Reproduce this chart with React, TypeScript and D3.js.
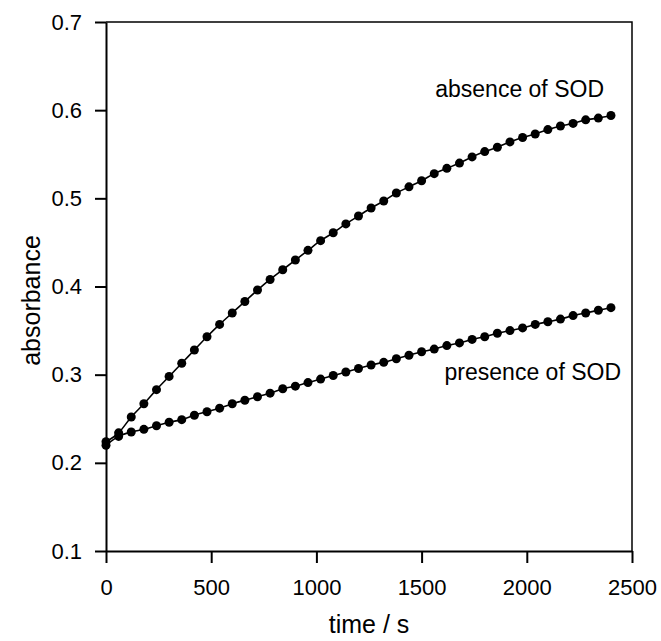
import React, { useEffect, useRef } from "react";
import * as d3 from "d3";

// time / s (readings every 60 s)
const times = [
  0, 60, 120, 180, 240, 300, 360, 420, 480, 540, 600, 660, 720, 780, 840, 900,
  960, 1020, 1080, 1140, 1200, 1260, 1320, 1380, 1440, 1500, 1560, 1620, 1680,
  1740, 1800, 1860, 1920, 1980, 2040, 2100, 2160, 2220, 2280, 2340, 2400,
];

const absenceSOD = [
  0.224, 0.234, 0.252, 0.267, 0.283, 0.298, 0.313, 0.328, 0.343, 0.357, 0.37,
  0.383, 0.396, 0.408, 0.419, 0.43, 0.441, 0.452, 0.461, 0.471, 0.48, 0.489,
  0.497, 0.506, 0.513, 0.52, 0.528, 0.534, 0.54, 0.547, 0.553, 0.558, 0.564,
  0.569, 0.573, 0.578, 0.582, 0.585, 0.589, 0.591, 0.594,
];

const presenceSOD = [
  0.22, 0.23, 0.235, 0.238, 0.242, 0.246, 0.249, 0.254, 0.258, 0.262, 0.267,
  0.271, 0.275, 0.279, 0.284, 0.287, 0.291, 0.295, 0.299, 0.303, 0.307, 0.311,
  0.314, 0.318, 0.322, 0.326, 0.329, 0.333, 0.336, 0.34, 0.343, 0.347, 0.35,
  0.353, 0.357, 0.36, 0.363, 0.367, 0.37, 0.373, 0.376,
];

const xTicks = [0, 500, 1000, 1500, 2000, 2500];
const yTicks = [0.1, 0.2, 0.3, 0.4, 0.5, 0.6, 0.7];

const width = 661;
const height = 641;
const margin = { top: 22, left: 106, right: 29, bottom: 90 };
const font = "'Liberation Sans', Arial, Helvetica, sans-serif";

const App = () => {
  const svgRef = useRef(null);

  useEffect(() => {
    const x = d3.scaleLinear([0, 2500], [margin.left, width - margin.right]);
    const y = d3.scaleLinear([0.1, 0.7], [height - margin.bottom, margin.top]);

    const svg = d3.select(svgRef.current);
    svg.selectAll("*").remove();

    // frame (top + right)
    svg
      .append("path")
      .attr("d", `M${x(0)},${y(0.7)}H${x(2500)}V${y(0.1)}`)
      .attr("fill", "none")
      .attr("stroke", "#000")
      .attr("stroke-width", 1.5);

    const xAxis = d3
      .axisBottom(x)
      .tickValues(xTicks)
      .tickFormat((d) => `${d}`)
      .tickSize(12)
      .tickSizeOuter(0)
      .tickPadding(16);
    const yAxis = d3
      .axisLeft(y)
      .tickValues(yTicks)
      .tickFormat(d3.format(".1f"))
      .tickSize(11)
      .tickSizeOuter(0)
      .tickPadding(13);

    const gx = svg
      .append("g")
      .attr("transform", `translate(0, ${y(0.1)})`)
      .call(xAxis);
    const gy = svg
      .append("g")
      .attr("transform", `translate(${x(0)}, 0)`)
      .call(yAxis);
    [gx, gy].forEach((g) => {
      g.selectAll("path, line").attr("stroke", "#000").attr("stroke-width", 2);
      g.selectAll("text")
        .attr("font-family", font)
        .attr("font-size", 22)
        .attr("fill", "#000");
    });

    const line = d3
      .line<number>()
      .x((_, i) => x(times[i]))
      .y((d) => y(d))
      .curve(d3.curveMonotoneX);

    [absenceSOD, presenceSOD].forEach((series) => {
      svg
        .append("path")
        .attr("d", line(series))
        .attr("fill", "none")
        .attr("stroke", "#000")
        .attr("stroke-width", 1.6);
      svg
        .append("g")
        .selectAll("circle")
        .data(series)
        .join("circle")
        .attr("cx", (_, i) => x(times[i]))
        .attr("cy", (d) => y(d))
        .attr("r", 4.5)
        .attr("fill", "#000");
    });

    const label = (txt: string, tx: number, ty: number, anchor: string, size: number) =>
      svg
        .append("text")
        .attr("x", tx)
        .attr("y", ty)
        .attr("text-anchor", anchor)
        .attr("font-family", font)
        .attr("font-size", size)
        .attr("fill", "#000")
        .text(txt);

    label("absence of SOD", 604, 97, "end", 23);
    label("presence of SOD", 621, 380, "end", 23);
    label("time / s", (x(0) + x(2500)) / 2, 633, "middle", 25);
    label("absorbance", 0, 0, "middle", 25).attr(
      "transform",
      `translate(40, ${(y(0.1) + y(0.7)) / 2 + 14}) rotate(-90)`
    );
  }, []);

  return (
    <svg
      ref={svgRef}
      width={width}
      height={height}
      style={{ position: "absolute", left: 0, top: 0, background: "#fff" }}
    />
  );
};

export default App;
